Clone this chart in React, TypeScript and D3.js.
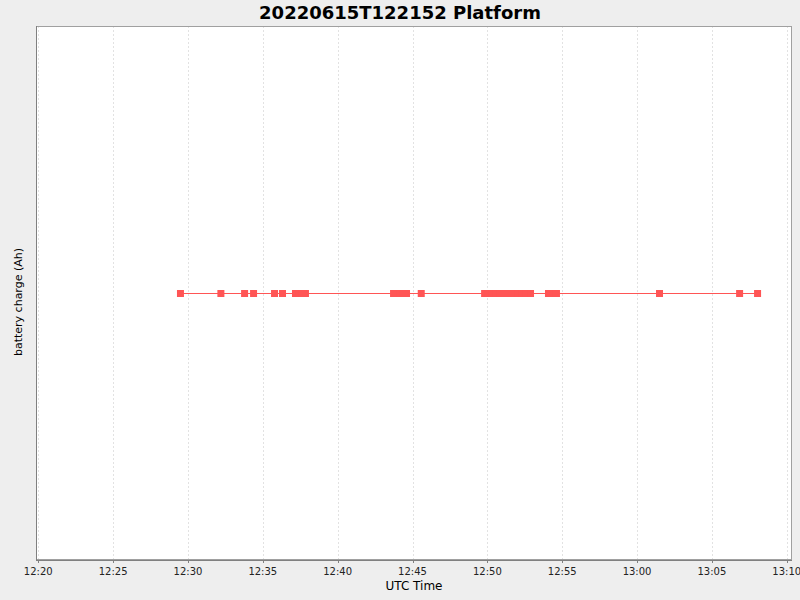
import React, { useEffect, useRef } from 'react';
import * as d3 from 'd3';

// Sample times (UTC, 2022-06-15)
const sampleTimes: string[] = [
  '12:29:30', '12:32:12', '12:33:47', '12:34:23', '12:35:47', '12:36:19',
  '12:37:11', '12:37:25', '12:37:38', '12:37:51',
  '12:43:44', '12:43:57', '12:44:10', '12:44:23', '12:44:36', '12:45:35',
  '12:49:49', '12:50:04', '12:50:19', '12:50:34', '12:50:49', '12:51:04', '12:51:19',
  '12:51:34', '12:51:49', '12:52:04', '12:52:19', '12:52:34', '12:52:53',
  '12:54:05', '12:54:21', '12:54:37',
  '13:01:30', '13:06:51', '13:08:03',
];
// battery charge stays flat for the whole run
const chargeValues: number[] = sampleTimes.map(() => 0);

const xDomain: string[] = ['12:19:51', '13:10:21'];
const tickLabels: string[] = [
  '12:20', '12:25', '12:30', '12:35', '12:40', '12:45',
  '12:50', '12:55', '13:00', '13:05', '13:10',
];

const toDate = (hms: string) => {
  const [h, m, s] = hms.split(':').map(Number);
  return new Date(Date.UTC(2022, 5, 15, h, m, s || 0));
};

const App: React.FC = () => {
  const ref = useRef<SVGSVGElement>(null);

  useEffect(() => {
    if (!ref.current) return;
    const svg = d3.select(ref.current);
    svg.selectAll('*').remove();

    const width = 800;
    const height = 600;
    const left = 36, right = 792, top = 26, bottom = 560;
    const font = 'DejaVu Sans, sans-serif';

    svg.append('rect').attr('width', width).attr('height', height).attr('fill', '#eeeeee');
    svg.append('rect')
      .attr('x', left).attr('y', top)
      .attr('width', right - left).attr('height', bottom - top)
      .attr('fill', '#ffffff');

    const x = d3.scaleUtc()
      .domain(xDomain.map(toDate))
      .range([left, right]);
    const y = d3.scaleLinear().domain([-1, 1]).range([bottom, top]);

    // vertical dashed gridlines
    svg.append('g')
      .selectAll('line')
      .data(tickLabels)
      .join('line')
      .attr('x1', d => Math.round(x(toDate(d))) + 0.5)
      .attr('x2', d => Math.round(x(toDate(d))) + 0.5)
      .attr('y1', top)
      .attr('y2', bottom)
      .attr('stroke', '#e2e2e2')
      .attr('stroke-width', 1)
      .attr('stroke-dasharray', '2,2');

    // plot outline
    svg.append('rect')
      .attr('x', left + 0.5).attr('y', top + 0.5)
      .attr('width', right - left - 1).attr('height', bottom - top - 1)
      .attr('fill', 'none')
      .attr('stroke', '#a0a0a0');
    svg.append('line')
      .attr('x1', left + 0.5).attr('x2', left + 0.5)
      .attr('y1', top).attr('y2', bottom)
      .attr('stroke', '#808080');
    svg.append('line')
      .attr('x1', left).attr('x2', right)
      .attr('y1', bottom + 0.5).attr('y2', bottom + 0.5)
      .attr('stroke', '#808080');

    // x axis ticks and labels
    const tg = svg.append('g');
    tg.selectAll('line')
      .data(tickLabels)
      .join('line')
      .attr('x1', d => Math.round(x(toDate(d))) + 0.5)
      .attr('x2', d => Math.round(x(toDate(d))) + 0.5)
      .attr('y1', bottom)
      .attr('y2', bottom + 3)
      .attr('stroke', '#808080');
    tg.selectAll('text')
      .data(tickLabels)
      .join('text')
      .attr('x', d => x(toDate(d)))
      .attr('y', 575)
      .attr('text-anchor', 'middle')
      .style('font-family', font)
      .style('font-size', '10px')
      .attr('fill', '#222222')
      .text(d => d);

    // series line and markers
    const pts = sampleTimes.map((t, i) => ({ t: toDate(t), v: chargeValues[i] }));
    const line = d3.line<{ t: Date; v: number }>()
      .x(d => x(d.t))
      .y(d => Math.round(y(d.v)) + 0.5);
    svg.append('path')
      .datum(pts)
      .attr('d', line)
      .attr('fill', 'none')
      .attr('stroke', '#ff5555')
      .attr('stroke-width', 1);

    svg.append('g')
      .selectAll('rect')
      .data(pts)
      .join('rect')
      .attr('x', d => x(d.t) - 3.5)
      .attr('y', d => Math.round(y(d.v)) - 3)
      .attr('width', 7)
      .attr('height', 7)
      .attr('fill', '#ff5555');

    // titles
    svg.append('text')
      .attr('x', 400).attr('y', 19)
      .attr('text-anchor', 'middle')
      .style('font-family', font)
      .style('font-size', '18px')
      .style('font-weight', 'bold')
      .attr('fill', '#000000')
      .text('20220615T122152 Platform');

    svg.append('text')
      .attr('x', 414).attr('y', 590)
      .attr('text-anchor', 'middle')
      .style('font-family', font)
      .style('font-size', '12px')
      .attr('fill', '#000000')
      .text('UTC Time');

    svg.append('text')
      .attr('transform', 'translate(22,302) rotate(-90)')
      .attr('text-anchor', 'middle')
      .style('font-family', font)
      .style('font-size', '11px')
      .attr('fill', '#000000')
      .text('battery charge (Ah)');
  }, []);

  return (
    <svg ref={ref} width={800} height={600}
      style={{ position: 'absolute', left: 0, top: 0 }} />
  );
};

export default App;
